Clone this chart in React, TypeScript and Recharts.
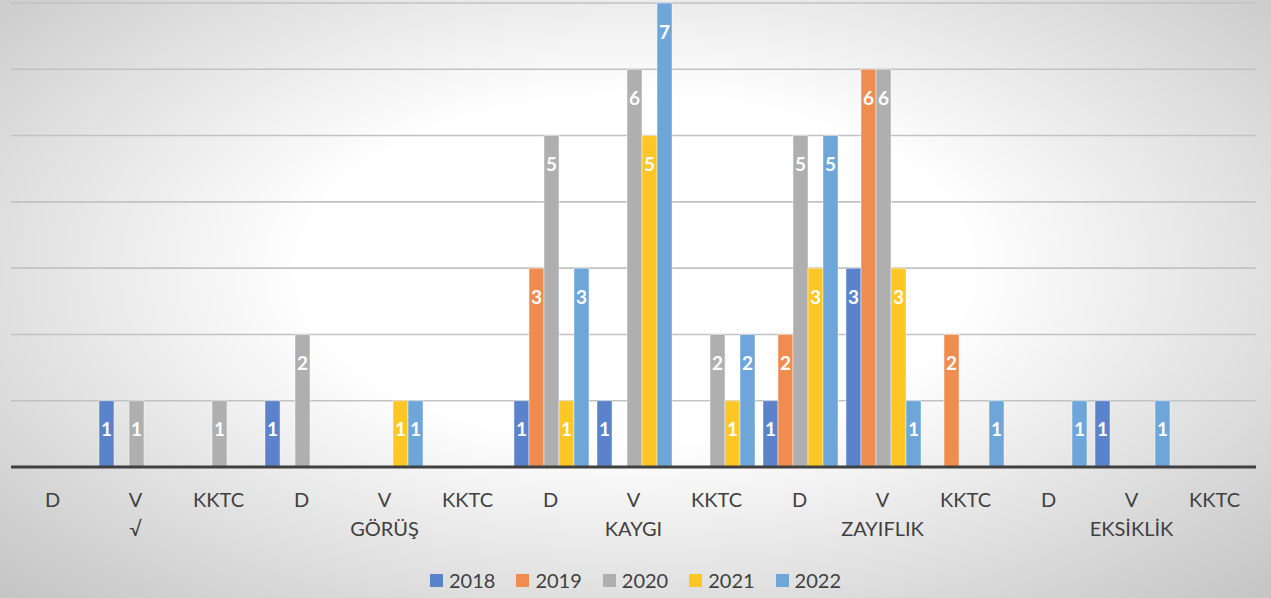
import { Bar, BarChart, CartesianGrid, LabelList, Legend, XAxis, YAxis } from 'recharts';

// Kategoriler: her grup için D / V / KKTC alt kırılımı
const GROUPS = ['√', 'GÖRÜŞ', 'KAYGI', 'ZAYIFLIK', 'EKSİKLİK'];
const SUBS = ['D', 'V', 'KKTC'];

// yıllara göre değerler (null = çubuk yok), sıra: √ D/V/KKTC, GÖRÜŞ ..., EKSİKLİK ...
const Y2018 = [null, 1, null, 1, null, null, 1, 1, null, 1, 3, null, null, 1, null];
const Y2019 = [null, null, null, null, null, null, 3, null, null, 2, 6, 2, null, null, null];
const Y2020 = [null, 1, 1, 2, null, null, 5, 6, 2, 5, 6, null, null, null, null];
const Y2021 = [null, null, null, null, 1, null, 1, 5, 1, 3, 3, null, null, null, null];
const Y2022 = [null, null, null, null, 1, null, 3, 7, 2, 5, 1, 1, 1, 1, null];

const YEARS = ['2018', '2019', '2020', '2021', '2022'];
const SERIES = [Y2018, Y2019, Y2020, Y2021, Y2022];
const COLORS = ['#5B83CB', '#EF8C4F', '#AFAFAF', '#FFC726', '#6EA6DA'];
const Y_TICKS = [0, 1, 2, 3, 4, 5, 6, 7];

const FONT = 'Lato, "Noto Sans", sans-serif';
const INK = '#404040';

const data = GROUPS.flatMap((g, gi) =>
  SUBS.map((s, si) => {
    const i = gi * 3 + si;
    const row: Record<string, string | number | null> = { key: `${g}-${s}`, sub: s, group: si === 1 ? g : '' };
    YEARS.forEach((yr, k) => {
      row[yr] = SERIES[k][i];
    });
    return row;
  }),
);

function CategoryTick(props: any) {
  const { x, y, payload } = props;
  const row = data[payload.index] ?? data.find((d) => d.key === payload.value);
  return (
    <g fontFamily={FONT} fontSize={20} fill={INK}>
      <text x={x} y={y + 32} textAnchor="middle" dominantBaseline="central" fill={INK}>
        {row?.sub}
      </text>
      {row?.group ? (
        <text x={x} y={y + 61} textAnchor="middle" dominantBaseline="central" fill={INK}>
          {row.group}
        </text>
      ) : null}
    </g>
  );
}

// değer etiketi: çubuğun üst ucunun içinde, beyaz kalın
function ValueLabel(props: any) {
  const vb = props.viewBox ?? props;
  const x = props.x ?? vb.x;
  const y = props.y ?? vb.y;
  const width = props.width ?? vb.width;
  const { value } = props;
  if (value == null || value === '') return null;
  return (
    <text
      x={x + width / 2}
      y={y + 28}
      fill="#ffffff"
      fontFamily={FONT}
      fontWeight={700}
      fontSize={19}
      textAnchor="middle"
      dominantBaseline="central"
    >
      {value}
    </text>
  );
}

function YearLegend() {
  return (
    <div style={{ display: 'flex', justifyContent: 'center', gap: 21, fontFamily: FONT, fontSize: 20, color: INK }}>
      {YEARS.map((yr, k) => (
        <span key={yr} style={{ display: 'flex', alignItems: 'center', gap: 6 }}>
          <span style={{ width: 13, height: 13, background: COLORS[k], display: 'inline-block' }} />
          {yr}
        </span>
      ))}
    </div>
  );
}

export default function App() {
  return (
    <div
      style={{
        position: 'absolute',
        left: 0,
        top: 0,
        width: 1271,
        height: 598,
        background: 'radial-gradient(ellipse farthest-corner at 50% 45%, #ffffff 37%, #c4c4c4 100%)',
      }}
    >
      <BarChart
        width={1271}
        height={598}
        data={data}
        margin={{ top: 3, right: 15, bottom: 0, left: 11 }}
        barCategoryGap={5}
        barGap={0}
      >
        <CartesianGrid vertical={false} stroke="#c2c2c2" strokeWidth={1.6} />
        <YAxis hide domain={[0, 7]} ticks={Y_TICKS} />
        <XAxis
          dataKey="key"
          height={131}
          axisLine={{ stroke: '#404040', strokeWidth: 3 }}
          tickLine={false}
          tickSize={0}
          tickMargin={0}
          interval={0}
          tick={<CategoryTick />}
        />
        <Legend
          layout="horizontal"
          verticalAlign="middle"
          align="center"
          content={<YearLegend />}
          wrapperStyle={{ top: 568, left: 0, width: 1271, height: 26 }}
        />
        {YEARS.map((yr, k) => (
          <Bar
            key={yr}
            dataKey={yr}
            fill={COLORS[k]}
            stroke="#ffffff"
            strokeOpacity={0.45}
            strokeWidth={1}
            isAnimationActive={false}
          >
            <LabelList dataKey={yr} content={<ValueLabel />} />
          </Bar>
        ))}
      </BarChart>
    </div>
  );
}
